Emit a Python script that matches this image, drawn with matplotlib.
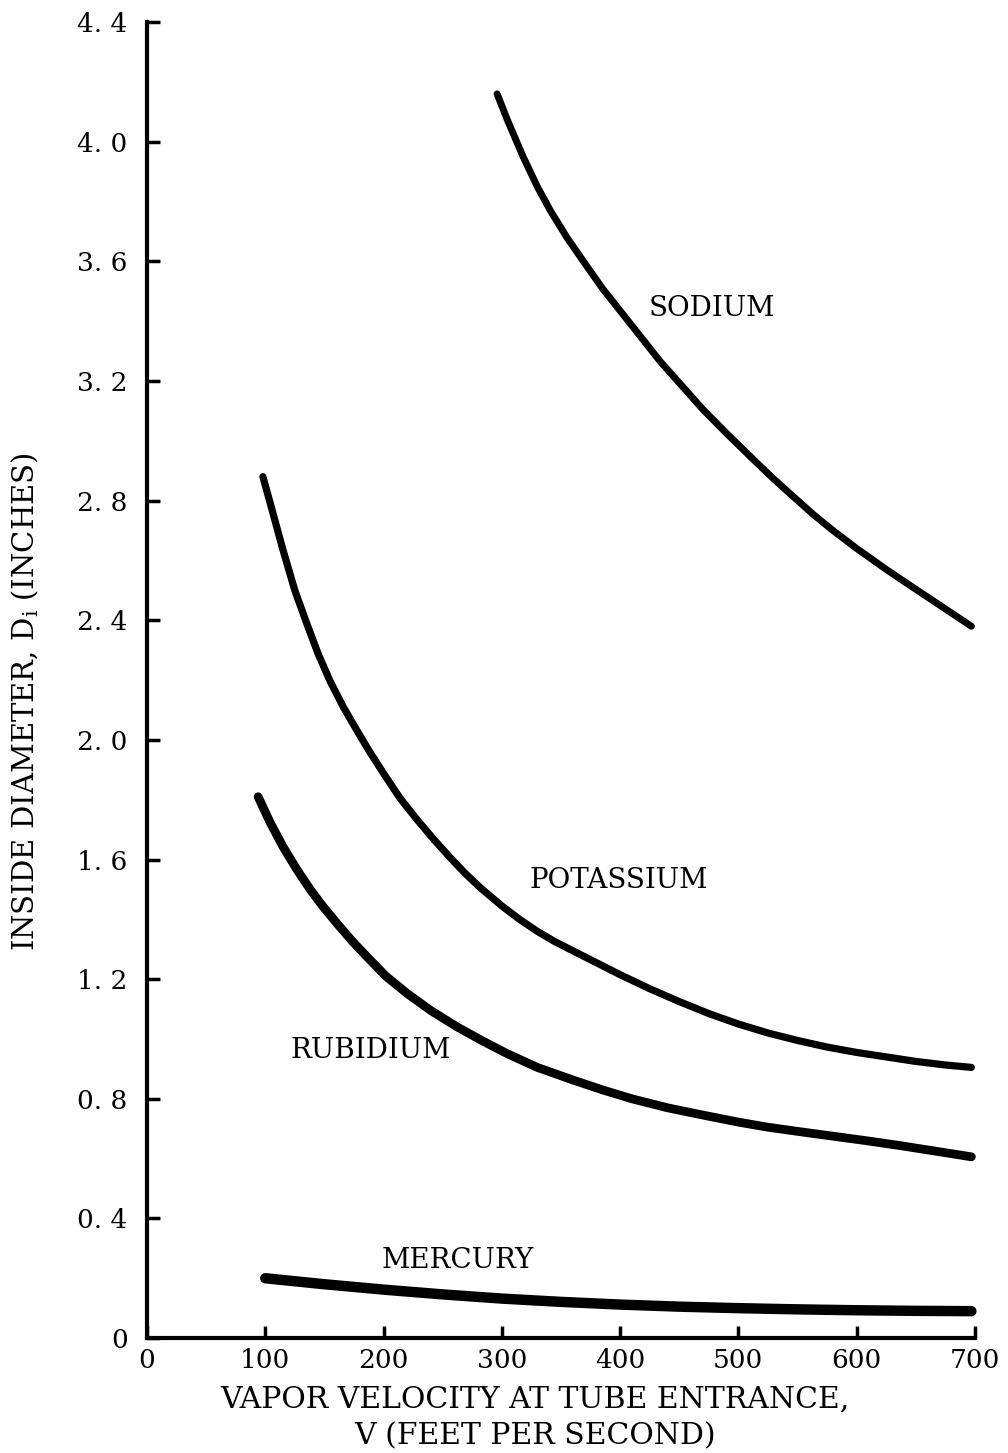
import numpy as np
import matplotlib
matplotlib.use("Agg")
import matplotlib.pyplot as plt

# font setup, serif typewriter look
plt.rcParams['font.family'] = ['DejaVu Serif']
plt.rcParams['mathtext.fontset'] = 'custom'
plt.rcParams['mathtext.rm'] = 'DejaVu Serif'

# data (V in ft/s, D in inches)
sodium_v = [296, 305, 318, 330, 341, 355, 369, 385, 403, 420, 434, 452, 470, 490,
			512, 530, 546, 563, 580, 600, 625, 640, 659, 678, 697]
sodium_d = [4.16, 4.07, 3.95, 3.85, 3.77, 3.68, 3.60, 3.51, 3.42, 3.335, 3.265, 3.185, 3.105, 3.025,
			2.94, 2.872, 2.815, 2.755, 2.70, 2.64, 2.57, 2.53, 2.48, 2.43, 2.38]

potassium_v = [98, 105, 115, 125, 135, 145, 155, 166, 177, 188, 200, 214, 228, 243, 259, 270, 282,
			   300, 315, 330, 345, 360, 380, 400, 425, 450, 475, 500, 525, 550, 575, 600, 625, 650, 675, 697]
potassium_d = [2.88, 2.78, 2.635, 2.50, 2.39, 2.285, 2.195, 2.11, 2.035, 1.962, 1.888, 1.805, 1.735, 1.665, 1.595, 1.55, 1.505,
			   1.445, 1.40, 1.36, 1.325, 1.295, 1.255, 1.215, 1.168, 1.125, 1.085, 1.05, 1.02, 0.995, 0.973, 0.955, 0.94, 0.925, 0.913, 0.905]

rubidium_v = [94, 104, 115, 127, 138, 149, 162, 174, 186, 202, 220, 240, 262, 283, 304, 330,
			  360, 385, 410, 440, 467, 500, 525, 552, 580, 608, 636, 665, 697]
rubidium_d = [1.81, 1.725, 1.643, 1.565, 1.50, 1.442, 1.38, 1.325, 1.275, 1.21, 1.152, 1.095, 1.041, 0.995, 0.952, 0.905,
			  0.863, 0.83, 0.80, 0.77, 0.748, 0.722, 0.705, 0.69, 0.675, 0.66, 0.644, 0.626, 0.606]

mercury_v = [100, 150, 200, 250, 300, 350, 400, 450, 500, 550, 600, 650, 697]
mercury_d = [0.20, 0.18, 0.162, 0.146, 0.132, 0.121, 0.112, 0.105, 0.10, 0.096, 0.093, 0.091, 0.09]

xticks = [0, 100, 200, 300, 400, 500, 600, 700]
xtick_labels = ["0", "100", "200", "300", "400", "500", "600", "700"]
yticks = [0, 0.4, 0.8, 1.2, 1.6, 2.0, 2.4, 2.8, 3.2, 3.6, 4.0, 4.4]
ytick_labels = ["0", "0. 4", "0. 8", "1. 2", "1. 6", "2. 0", "2. 4", "2. 8", "3. 2", "3. 6", "4. 0", "4. 4"]

fig = plt.figure(figsize=(10.08, 14.53), dpi=100)
ax = fig.add_axes([0.1458, 0.0791, 0.8214, 0.9057])

# curves
ax.plot(sodium_v, sodium_d, color='black', lw=5.0, solid_capstyle='round', solid_joinstyle='round', clip_on=False)
ax.plot(potassium_v, potassium_d, color='black', lw=5.2, solid_capstyle='round', solid_joinstyle='round', clip_on=False)
ax.plot(rubidium_v, rubidium_d, color='black', lw=6.3, solid_capstyle='round', solid_joinstyle='round', clip_on=False)
ax.plot(mercury_v, mercury_d, color='black', lw=7.5, solid_capstyle='round', solid_joinstyle='round', clip_on=False)

# curve labels
lbl_kw = dict(fontsize=20, ha='center', va='center')
ax.text(478, 3.444, "SODIUM", **lbl_kw)
ax.text(399, 1.531, "POTASSIUM", **lbl_kw)
ax.text(189, 0.963, "RUBIDIUM", **lbl_kw)
ax.text(263, 0.261, "MERCURY", **lbl_kw)

# axes
ax.set_xlim(0, 700)
ax.set_ylim(0, 4.4)
ax.set_xticks(xticks)
ax.set_xticklabels(xtick_labels)
ax.set_yticks(yticks)
ax.set_yticklabels(ytick_labels)
ax.tick_params(direction='in', length=9, width=2.5, labelsize=19)
ax.tick_params(axis='y', pad=14)
ax.tick_params(axis='x', pad=7)
for s in ['top', 'right']:
	ax.spines[s].set_visible(False)
for s in ['left', 'bottom']:
	ax.spines[s].set_linewidth(3)

# axis titles
fig.text(0.531, 0.0365, "VAPOR VELOCITY AT TUBE ENTRANCE,", fontsize=21.5, ha='center', va='center')
fig.text(0.531, 0.0115, "V (FEET PER SECOND)", fontsize=21.5, ha='center', va='center')
fig.text(0.025, 0.517, r"INSIDE DIAMETER, D$_{\rm i}$ (INCHES)", fontsize=21, rotation=90, ha='center', va='center')

fig.savefig("out.png", dpi=100, facecolor='white')
